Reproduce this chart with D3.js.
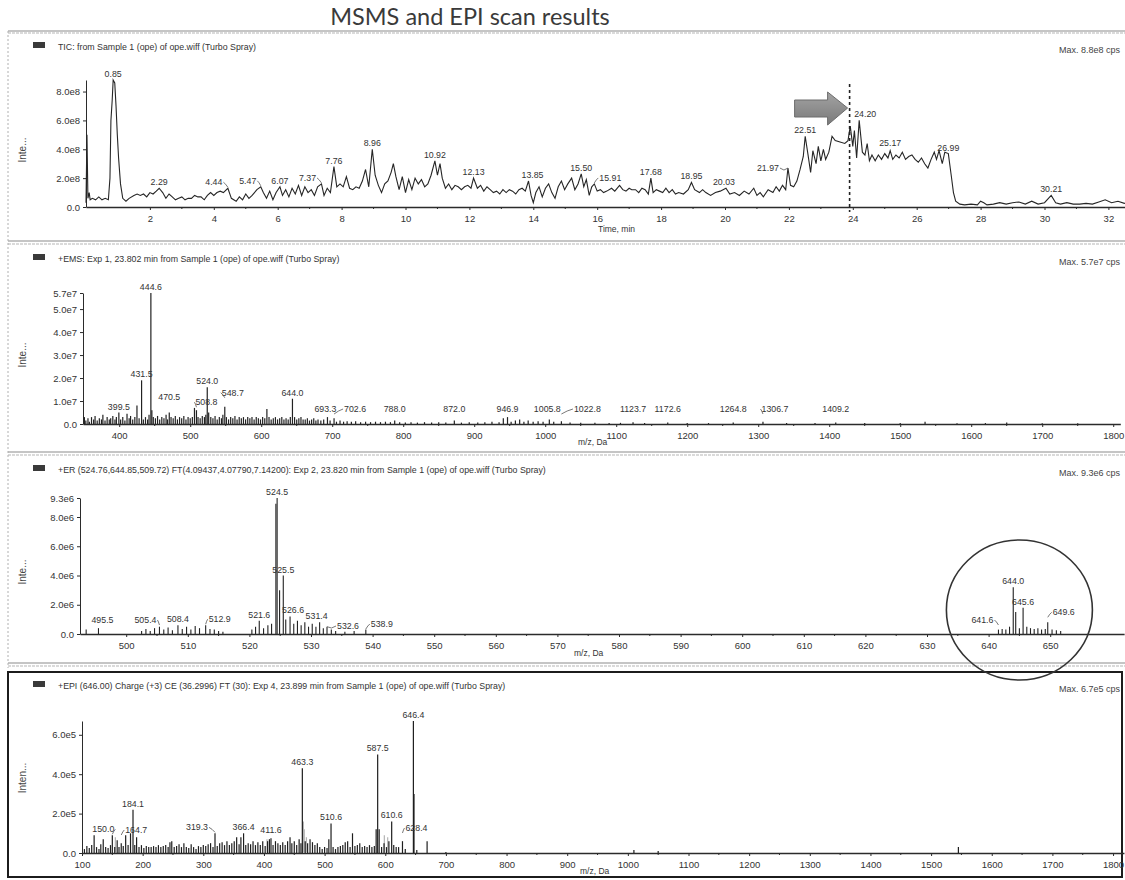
<!DOCTYPE html>
<html>
<head>
<meta charset="utf-8">
<script src="https://cdn.jsdelivr.net/npm/d3@7"></script>
<style>
  html, body { margin: 0; padding: 0; background: #fff; }
  svg { display: block; }
</style>
</head>
<body>
<svg id="chart" width="1125" height="880"></svg>
<script>
// ---------------------------------------------------------------
// Data
// ---------------------------------------------------------------

// TIC chromatogram: retention time (min) and intensity (x 1e8 cps)
const ticTime = [
  0.00,0.03,0.06,0.10,0.13,0.20,0.30,0.40,0.50,0.60,0.70,0.75,0.78,0.82,0.85,0.90,0.94,0.98,1.02,1.08,
  1.15,1.25,1.35,1.50,1.60,1.70,1.80,1.90,2.00,2.10,2.20,2.29,2.40,2.50,2.60,2.70,2.80,2.90,3.00,3.10,
  3.20,3.30,3.40,3.50,3.60,3.70,3.80,3.90,4.00,4.10,4.20,4.30,4.44,4.55,4.70,4.80,4.90,5.00,5.10,5.20,
  5.35,5.47,5.55,5.65,5.75,5.85,5.95,6.07,6.15,6.25,6.35,6.45,6.55,6.65,6.75,6.85,6.95,7.05,7.15,7.25,
  7.37,7.45,7.55,7.65,7.76,7.85,7.95,8.05,8.15,8.25,8.35,8.45,8.55,8.65,8.75,8.85,8.96,9.05,9.15,9.25,
  9.35,9.45,9.55,9.62,9.70,9.80,9.90,10.00,10.10,10.20,10.30,10.40,10.50,10.60,10.70,10.80,10.92,11.00,11.08,11.15,
  11.25,11.35,11.45,11.55,11.65,11.75,11.85,11.95,12.05,12.13,12.25,12.35,12.45,12.55,12.65,12.75,12.85,12.95,13.05,13.15,
  13.25,13.35,13.45,13.55,13.65,13.75,13.85,13.93,14.00,14.08,14.18,14.28,14.38,14.48,14.58,14.68,14.78,14.88,14.98,15.08,
  15.20,15.30,15.40,15.50,15.58,15.66,15.75,15.83,15.91,16.00,16.10,16.20,16.30,16.45,16.55,16.70,16.80,16.90,17.00,17.08,
  17.20,17.30,17.40,17.50,17.60,17.68,17.75,17.85,17.95,18.05,18.15,18.25,18.35,18.45,18.55,18.70,18.85,18.95,19.05,19.20,
  19.30,19.40,19.55,19.70,19.85,20.03,20.15,20.30,20.45,20.60,20.75,20.90,21.00,21.10,21.20,21.35,21.50,21.60,21.70,21.80,
  21.90,21.97,22.05,22.15,22.25,22.35,22.45,22.51,22.60,22.68,22.75,22.85,22.92,23.00,23.08,23.15,23.25,23.35,23.45,23.60,
  23.75,23.85,23.92,24.00,24.05,24.12,24.20,24.30,24.38,24.45,24.52,24.60,24.70,24.80,24.90,25.00,25.10,25.17,25.25,25.35,
  25.45,25.55,25.65,25.75,25.85,25.95,26.05,26.15,26.25,26.35,26.45,26.55,26.62,26.70,26.80,26.88,26.99,27.08,27.15,27.22,
  27.35,27.50,27.70,27.90,28.00,28.10,28.20,28.40,28.60,28.80,29.00,29.20,29.40,29.60,29.80,30.00,30.21,30.35,30.50,30.70,
  30.90,31.10,31.30,31.50,31.70,31.90,32.10,32.30,32.50,32.70
];
const ticIntensity = [
  0.3,5.0,0.6,1.0,0.5,0.6,0.5,0.7,0.5,0.6,0.5,2.0,6.0,7.4,8.8,8.6,7.0,5.0,3.4,1.6,
  0.6,0.4,0.6,0.8,0.9,0.8,0.9,0.7,1.0,0.9,1.1,1.3,1.0,0.6,0.9,0.7,0.5,0.6,0.7,0.5,
  0.6,0.6,0.8,0.7,0.7,0.5,0.8,1.0,0.8,1.0,1.1,1.0,1.3,0.6,0.4,0.7,0.5,0.9,0.6,0.8,
  1.2,1.4,1.0,0.6,1.1,0.5,1.0,1.4,0.8,1.2,0.7,1.3,0.9,1.5,0.8,1.4,1.0,1.2,0.8,1.4,
  1.6,0.8,1.3,1.0,2.8,1.4,1.6,1.4,2.1,1.3,1.2,1.4,1.3,1.8,2.6,1.4,4.0,2.2,1.5,1.0,
  1.6,1.8,2.4,3.0,2.1,1.2,2.1,1.0,1.9,1.2,2.0,1.6,1.9,1.4,1.6,2.2,3.2,2.2,3.0,2.0,
  1.3,1.6,1.2,1.5,1.4,1.2,1.4,1.5,1.3,2.0,1.3,1.5,1.1,1.4,1.2,1.0,1.1,0.9,1.2,1.0,
  1.2,1.1,0.9,1.2,1.3,1.1,1.8,0.8,0.3,1.0,1.4,0.7,1.3,1.6,1.0,0.6,1.4,1.8,1.2,1.6,
  2.0,1.2,1.6,2.3,1.4,1.9,0.8,1.4,1.6,1.1,1.2,1.0,1.1,1.3,1.1,1.5,1.2,1.1,1.3,1.2,
  1.2,1.0,1.3,1.2,0.9,2.0,1.0,1.2,1.1,1.0,1.3,1.0,1.2,0.9,1.0,0.9,1.2,1.7,1.2,1.0,
  1.2,1.0,0.8,1.0,1.1,1.3,0.9,1.0,0.8,1.1,0.9,1.3,0.8,1.0,0.7,1.2,1.0,1.4,1.1,1.5,
  1.2,2.7,1.5,1.4,1.8,2.6,3.5,4.9,3.6,2.4,3.9,3.0,4.2,3.2,4.0,3.3,3.8,4.9,4.6,4.5,
  4.4,4.6,5.6,4.2,5.3,3.4,6.0,3.8,3.6,4.4,3.2,3.6,3.2,3.6,3.3,3.7,3.4,3.9,3.3,3.6,
  3.4,3.8,3.3,3.5,3.6,3.3,3.1,3.4,3.0,2.7,3.3,3.8,3.3,3.9,3.0,3.8,3.7,2.2,1.0,0.4,
  0.2,0.15,0.2,0.15,0.4,0.3,0.15,0.2,0.3,0.2,0.3,0.35,0.2,0.4,0.2,0.3,0.8,0.3,0.2,0.3,
  0.2,0.2,0.25,0.2,0.35,0.5,0.3,0.4,0.25,0.3
];
// Labelled TIC peaks (retention time, min)
const ticPeakLabels = [0.85,2.29,4.44,5.47,6.07,7.37,7.76,8.96,10.92,12.13,13.85,15.50,15.91,
                       17.68,18.95,20.03,21.97,22.51,24.20,25.17,26.99,30.21];
const ticMarkerTime = 23.9;   // scan time selected for the spectra below
const ticTimeTicks = [2,4,6,8,10,12,14,16,18,20,22,24,26,28,30,32];
const ticIntensityTicks = [0,2,4,6,8];

// +EMS spectrum: [m/z, intensity x 1e7 cps]
const emsPeaks = [
  [351,0.3],[353,0.15],[356,0.25],[358,0.1],[361,0.3],[364,0.2],[366,0.35],[369,0.15],[372,0.25],[375,0.2],
  [377,0.4],[380,0.15],[383,0.3],[386,0.2],[388,0.25],[391,0.35],[394,0.2],[396,0.3],[399.5,0.5],[402,0.2],
  [405,0.3],[408,0.15],[411,0.45],[414,0.25],[416,0.35],[419,0.2],[422,0.3],[425,0.8],[428,0.25],[431.5,1.9],
  [434,0.2],[437,0.3],[440,0.2],[442,0.4],[444.6,5.7],[446,0.6],[448,0.3],[451,0.25],[454,0.35],[457,0.2],
  [460,0.3],[463,0.25],[466,0.4],[468,0.2],[470.5,0.5],[473,0.3],[476,0.25],[479,0.35],[482,0.2],[485,0.3],
  [488,0.25],[491,0.35],[494,0.2],[497,0.3],[500,0.25],[503,0.3],[506,0.7],[508.8,0.6],[511,0.3],[514,0.25],
  [517,0.35],[520,0.3],[522,0.4],[524.0,1.6],[526,0.5],[529,0.3],[532,0.25],[535,0.35],[538,0.2],[541,0.3],
  [544,0.25],[546,0.4],[548.7,0.75],[551,0.3],[554,0.2],[557,0.3],[560,0.25],[563,0.35],[566,0.2],[569,0.3],
  [572,0.25],[575,0.3],[578,0.2],[581,0.3],[584,0.25],[587,0.3],[590,0.2],[593,0.3],[596,0.25],[599,0.2],
  [602,0.3],[605,0.25],[608,0.65],[611,0.3],[614,0.2],[617,0.25],[620,0.3],[623,0.2],[626,0.25],[629,0.3],
  [632,0.2],[635,0.25],[638,0.2],[641,0.3],[644.0,1.1],[647,0.3],[650,0.2],[653,0.25],[656,0.3],[659,0.2],
  [662,0.2],[665,0.25],[668,0.15],[671,0.2],[674,0.25],[677,0.15],[680,0.2],[684,0.15],[688,0.2],[693.3,0.3],
  [697,0.15],[702.6,0.25],[706,0.1],[711,0.15],[716,0.1],[721,0.12],[727,0.1],[733,0.12],[740,0.08],[747,0.1],
  [754,0.08],[761,0.1],[768,0.08],[775,0.1],[782,0.08],[788.0,0.15],[795,0.08],[803,0.06],[811,0.08],[820,0.06],
  [830,0.08],[840,0.06],[850,0.08],[860,0.06],[872.0,0.15],[882,0.06],[893,0.08],[905,0.06],[915,0.08],[925,0.1],
  [935,0.08],[941,0.25],[946.9,0.3],[952,0.1],[958,0.15],[964,0.2],[970,0.1],[976,0.15],[983,0.1],[990,0.12],
  [997,0.1],[1005.8,0.2],[1012,0.1],[1022.8,0.12],[1035,0.06],[1050,0.05],[1070,0.05],[1090,0.04],[1106,0.05],[1123.7,0.08],
  [1140,0.04],[1172.6,0.06],[1200,0.04],[1230,0.04],[1264.8,0.06],[1306.7,0.1],[1340,0.04],[1380,0.04],[1409.2,0.06],[1450,0.04],
  [1500,0.04],[1535,0.1],[1580,0.03],[1620,0.04],[1650,0.06],[1700,0.03],[1750,0.03]
];
const emsLabels = [399.5,431.5,444.6,470.5,508.8,524.0,548.7,644.0,693.3,702.6,788.0,872.0,946.9,
                   1005.8,1022.8,1123.7,1172.6,1264.8,1306.7,1409.2];
const emsMzTicks = [400,500,600,700,800,900,1000,1100,1200,1300,1400,1500,1600,1700,1800];
const emsIntensityTicks = [0,1,2,3,4,5,5.7];

// +ER spectrum: [m/z, intensity x 1e6 cps]
const erPeaks = [
  [493.5,0.3],[495.5,0.4],[502.5,0.2],[503.2,0.35],[503.9,0.2],[504.6,0.4],[505.4,0.5],[506.1,0.3],[506.8,0.45],[507.5,0.25],
  [508.4,0.6],[509.1,0.35],[509.8,0.5],[510.5,0.3],[511.2,0.55],[511.9,0.4],[512.9,0.6],[513.6,0.35],[514.3,0.3],[515.0,0.2],
  [515.7,0.15],[520.4,0.3],[521.0,0.5],[521.6,0.9],[522.3,0.4],[523.0,0.6],[523.6,0.7],[524.3,8.9],[524.5,9.3],[524.9,3.0],
  [525.5,4.0],[525.9,1.0],[526.6,1.2],[527.2,0.7],[527.8,0.9],[528.4,0.6],[529.0,0.8],[529.6,0.5],[530.2,0.7],[530.8,0.5],
  [531.4,0.8],[532.0,0.4],[532.6,0.5],[533.3,0.3],[534.0,0.2],[535.5,0.15],[537.0,0.2],[538.9,0.3],
  [641.6,0.3],[642.2,0.35],[642.8,0.3],[643.4,0.5],[644.0,3.2],[644.4,1.5],[645.0,0.4],[645.6,1.8],[646.2,0.5],[646.8,0.4],
  [647.4,0.35],[648.0,0.4],[648.6,0.3],[649.2,0.35],[649.6,0.8],[650.3,0.3],[651.0,0.25],[651.7,0.2]
];
const erLabels = [495.5,505.4,508.4,512.9,521.6,524.5,525.5,526.6,531.4,532.6,538.9,641.6,644.0,645.6,649.6];
const erMzTicks = [500,510,520,530,540,550,560,570,580,590,600,610,620,630,640,650];
const erIntensityTicks = [0,2,4,6,8,9.3];

// +EPI product-ion spectrum of m/z 646: [m/z, intensity x 1e5 cps]
const epiPeaks = [
  [104,0.2],[108,0.35],[112,0.25],[116,0.4],[120,0.9],[124,0.3],[128,0.2],[131,0.45],[135,0.7],[139,0.3],
  [143,0.25],[147,0.4],[150.0,0.9],[154,0.3],[158,0.65],[161,0.3],[164.7,0.5],[168,0.35],[172,0.9],[176,0.4],
  [180,1.0],[184.1,2.2],[187,0.4],[190,0.8],[194,0.3],[198,0.4],[202,0.25],[206,0.35],[210,0.3],[214,0.3],
  [218,0.35],[222,0.3],[226,0.4],[230,0.3],[234,0.35],[238,0.4],[242,0.3],[245,0.55],[248,0.6],[252,0.3],
  [256,0.35],[260,0.45],[264,0.3],[268,0.5],[272,0.3],[276,0.25],[280,0.45],[284,0.3],[288,0.2],[292,0.35],
  [296,0.3],[300,0.4],[304,0.35],[308,0.45],[312,0.5],[316,0.3],[319.3,1.0],[323,0.35],[327,0.5],[331,0.55],
  [335,0.4],[339,0.6],[343,0.4],[347,0.5],[351,0.6],[355,0.8],[359,0.45],[362,0.8],[366.4,1.0],[370,0.4],
  [374,0.5],[378,0.45],[382,0.6],[386,0.4],[390,0.55],[394,0.4],[398,0.6],[402,0.35],[406,0.6],[409,0.7],
  [411.6,0.75],[415,0.4],[419,0.6],[423,0.5],[427,0.4],[431,0.55],[435,0.4],[439,0.6],[443,0.8],[446,0.5],
  [450,0.6],[454,0.4],[458,0.7],[461,0.5],[463.3,4.3],[468,0.6],[472,0.5],[476,0.7],[480,0.55],[484,0.4],
  [488,0.5],[492,0.3],[496,0.2],[500,0.3],[504,0.25],[507,0.7],[510.6,1.5],[514,0.3],[518,0.2],[522,0.3],
  [526,0.35],[530,0.4],[534,0.55],[538,0.6],[542,0.3],[546,1.0],[550,0.35],[554,0.4],[558,0.5],[562,0.3],
  [566,0.35],[570,0.3],[574,0.4],[578,0.3],[582,0.35],[585,1.2],[587.5,5.0],[590,1.2],[594,0.3],[598,0.5],
  [602,0.3],[606,0.6],[610.6,1.6],[614,0.4],[618,0.3],[622,0.3],[628.4,0.6],[633,0.2],[646.4,6.7],[647.4,3.0],
  [652,0.15],[669,0.6],[700,0.05],[1010,0.15],[1050,0.1],[1545,0.3]
];
// weaker, lighter-printed fragment lines
const epiFaintPeaks = [[155,0.8],[405,0.7],[465,1.6],[466.5,1.2],[470,0.8],[598.5,0.9],[604,0.8]];
const epiLabels = [150.0,164.7,184.1,319.3,366.4,411.6,463.3,510.6,587.5,610.6,628.4,646.4];
const epiMzTicks = [100,200,300,400,500,600,700,800,900,1000,1100,1200,1300,1400,1500,1600,1700,1800];
const epiIntensityTicks = [0,2,4,6];

// ---------------------------------------------------------------
// Drawing
// ---------------------------------------------------------------
const svg = d3.select("#chart");
const FONT = "'Liberation Sans', Arial, Helvetica, sans-serif";
const INK = "#2b2b2b";

// page title
svg.append("text")
  .attr("x", 470).attr("y", 25)
  .attr("text-anchor", "middle")
  .attr("font-family", "Lato, 'Open Sans', sans-serif")
  .attr("font-size", 23.5)
  .attr("fill", "#3a3a3a")
  .text("MSMS and EPI scan results");

// scanned-page frame rules between the upper panels
[[31, 33], [241, 244], [452, 455], [663, 666]].forEach(([a, b]) => {
  svg.append("line").attr("x1", 8).attr("x2", 1125).attr("y1", a).attr("y2", a)
    .attr("stroke", "#8c8c8c").attr("stroke-width", 1.2);
  svg.append("line").attr("x1", 8).attr("x2", 1125).attr("y1", b).attr("y2", b)
    .attr("stroke", "#b5b5b5").attr("stroke-width", 1).attr("stroke-dasharray", "3,1");
});
svg.append("line").attr("x1", 8).attr("x2", 8).attr("y1", 31).attr("y2", 668)
  .attr("stroke", "#b0b0b0").attr("stroke-dasharray", "2,2");
// framed bottom panel
svg.append("rect").attr("x", 8).attr("y", 672).attr("width", 1114).attr("height", 205)
  .attr("fill", "none").attr("stroke", "#1c1c1c").attr("stroke-width", 2);

function styleAxis(g) {
  g.selectAll("path").attr("stroke", INK).attr("stroke-width", 1);
  g.selectAll("line").attr("stroke", INK);
  g.selectAll("text").attr("fill", "#333").attr("font-family", FONT).attr("font-size", 9.5);
}

function drawFrame(o) {
  const g = svg.append("g");
  const x0 = o.x.range()[0], base = o.y(0);
  // header row
  g.append("rect").attr("x", 33).attr("y", o.headY - 8).attr("width", 12).attr("height", 6)
    .attr("fill", "#3a3a3a");
  g.append("text").attr("x", 58).attr("y", o.headY)
    .attr("font-family", FONT).attr("font-size", 8.8).attr("fill", "#333").text(o.header);
  g.append("text").attr("x", 1120).attr("y", o.headY + 3).attr("text-anchor", "end")
    .attr("font-family", FONT).attr("font-size", 9).attr("fill", "#444").text(o.maxText);

  // y axis
  const gy = g.append("g").attr("transform", `translate(${x0},0)`)
    .call(d3.axisLeft(o.y).tickValues(o.yTicks).tickFormat(o.yFmt).tickSize(3).tickSizeOuter(0).tickPadding(3));
  styleAxis(gy);
  // x axis
  const gx = g.append("g").attr("transform", `translate(0,${base})`)
    .call(d3.axisBottom(o.x).tickValues(o.xTicks).tickFormat(d3.format("d"))
      .tickSize(3).tickSizeOuter(0).tickPadding(5));
  styleAxis(gx);
  gx.select("path").attr("stroke-width", 1.4);
  // minor ticks on x
  const minor = o.xTicks.slice(0, -1).map((t, i) => (t + o.xTicks[i + 1]) / 2);
  g.append("g").selectAll("line").data(minor).join("line")
    .attr("x1", d => o.x(d)).attr("x2", d => o.x(d))
    .attr("y1", base).attr("y2", base + 2).attr("stroke", INK);

  // axis titles
  g.append("text").attr("x", o.xTitleX).attr("y", base + o.xTitleDy)
    .attr("font-family", FONT).attr("font-size", 8.5).attr("fill", "#333").text(o.xTitle);
  g.append("text")
    .attr("transform", `translate(26,${o.yTitleY}) rotate(-90)`)
    .attr("text-anchor", "middle")
    .attr("font-family", FONT).attr("font-size", 10).attr("fill", "#444").text(o.yTitle);
  return g;
}

// peak labels with optional leader lines
function drawLabels(g, items, x, y, minGap, nudge, digits) {
  const base = y(0);
  items.forEach(({pos, val}) => {
    const txt = pos.toFixed(digits);
    const [dx, dy] = nudge[txt] || [0, 0];
    const px = x(pos), top = y(val);
    const ly = Math.min(top - 3, base - minGap) + dy;
    const t = g.append("text").attr("x", px + dx).attr("y", ly)
      .attr("text-anchor", "middle")
      .attr("font-family", FONT).attr("font-size", 8.8).attr("fill", "#333").text(txt);
    if (Math.abs(dx) > 6) {
      const w = t.node().getComputedTextLength();
      const ex = dx < 0 ? px + dx + w / 2 + 1 : px + dx - w / 2 - 1;
      g.append("path")
        .attr("d", `M${ex},${ly - 3} L${(ex + px) / 2},${ly - 1} L${px},${Math.min(top, ly + 2)}`)
        .attr("fill", "none").attr("stroke", "#555").attr("stroke-width", 0.8);
    }
  });
}

function drawSticks(g, data, x, y, color, width) {
  g.append("g").selectAll("line").data(data).join("line")
    .attr("x1", d => x(d[0])).attr("x2", d => x(d[0]))
    .attr("y1", y(0)).attr("y2", d => y(d[1]))
    .attr("stroke", color).attr("stroke-width", width);
}

function valueAt(data, pos) {
  let best = data[0];
  data.forEach(d => { if (Math.abs(d[0] - pos) < Math.abs(best[0] - pos)) best = d; });
  return best[1];
}

// ---- Panel 1: TIC --------------------------------------------
{
  const x = d3.scaleLinear().domain([0, 32.75]).range([86, 86 + 32.75 * 31.95]);
  const y = d3.scaleLinear().domain([0, 8.8]).range([207, 80]);
  const g = drawFrame({
    x, y, headY: 50,
    header: "TIC: from Sample 1 (ope) of ope.wiff (Turbo Spray)",
    maxText: "Max. 8.8e8 cps",
    yTicks: ticIntensityTicks, yFmt: d => d === 0 ? "0.0" : d.toFixed(1) + "e8",
    xTicks: ticTimeTicks, xTitle: "Time, min", xTitleX: 598, xTitleDy: 25,
    yTitle: "Inte...", yTitleY: 150
  });
  const pts = ticTime.map((t, i) => [t, ticIntensity[i]]);
  g.append("path").datum(pts)
    .attr("d", d3.line().x(d => x(d[0])).y(d => y(d[1])))
    .attr("fill", "none").attr("stroke", "#262626").attr("stroke-width", 1.1);

  const nudge = { "4.44": [-14, 0], "5.47": [-13, 0], "7.37": [-14, 0], "15.91": [16, 0],
                  "20.03": [-2, 0], "21.97": [-20, 6], "24.20": [6, 0], "13.85": [4, 0],
                  "25.17": [0, -2] };
  drawLabels(g, ticPeakLabels.map(t => ({pos: t, val: valueAt(pts, t)})), x, y, 0, nudge, 2);

  // selected scan time
  const mx = x(ticMarkerTime);
  g.append("line").attr("x1", mx).attr("x2", mx).attr("y1", 84).attr("y2", 212)
    .attr("stroke", "#222").attr("stroke-width", 1.6).attr("stroke-dasharray", "3,3");
  // pointer arrow
  const tip = mx - 2;
  const grad = svg.append("defs").append("linearGradient").attr("id", "arrowFill")
    .attr("x1", 0).attr("x2", 0).attr("y1", 0).attr("y2", 1);
  grad.append("stop").attr("offset", 0).attr("stop-color", "#a3a3a3");
  grad.append("stop").attr("offset", 1).attr("stop-color", "#7a7a7a");
  g.append("path")
    .attr("d", `M${tip - 53},${100} L${tip - 20},${100} L${tip - 20},${92} L${tip},${108}
                L${tip - 20},${125} L${tip - 20},${117} L${tip - 53},${117} Z`)
    .attr("fill", "url(#arrowFill)").attr("stroke", "#6d6d6d").attr("stroke-width", 1);
}

// ---- Panel 2: +EMS -------------------------------------------
{
  const x = d3.scaleLinear().domain([349, 1810]).range([83, 83 + 1461 * 0.71]);
  const y = d3.scaleLinear().domain([0, 5.7]).range([424, 293]);
  const g = drawFrame({
    x, y, headY: 262,
    header: "+EMS: Exp 1, 23.802 min from Sample 1 (ope) of ope.wiff (Turbo Spray)",
    maxText: "Max. 5.7e7 cps",
    yTicks: emsIntensityTicks, yFmt: d => d === 0 ? "0.0" : d.toFixed(1) + "e7",
    xTicks: emsMzTicks, xTitle: "m/z, Da", xTitleX: 578, xTitleDy: 21,
    yTitle: "Inte...", yTitleY: 355
  });
  drawSticks(g, emsPeaks, x, y, "#222", 1.2);
  const nudge = { "470.5": [0, -10], "508.8": [10, -2], "548.7": [8, -8], "702.6": [21, 0],
                  "1022.8": [26, 0], "1306.7": [12, 0], "693.3": [-2, 0], "1005.8": [-2, 0] };
  drawLabels(g, emsLabels.map(m => ({pos: m, val: valueAt(emsPeaks, m)})), x, y, 12, nudge, 1);
}

// ---- Panel 3: +ER --------------------------------------------
{
  const x = d3.scaleLinear().domain([492.5, 662]).range([80, 80 + 169.5 * 6.16]);
  const y = d3.scaleLinear().domain([0, 9.3]).range([634, 498]);
  const g = drawFrame({
    x, y, headY: 473,
    header: "+ER (524.76,644.85,509.72) FT(4.09437,4.07790,7.14200): Exp 2, 23.820 min from Sample 1 (ope) of ope.wiff (Turbo Spray)",
    maxText: "Max. 9.3e6 cps",
    yTicks: erIntensityTicks, yFmt: d => d === 0 ? "0.0" : d.toFixed(1) + "e6",
    xTicks: erMzTicks, xTitle: "m/z, Da", xTitleX: 574, xTitleDy: 22,
    yTitle: "Inte...", yTitleY: 572
  });
  drawSticks(g, erPeaks, x, y, "#222", 1.1);
  const nudge = { "505.4": [-14, 0], "512.9": [14, 0], "526.6": [3, 0], "531.4": [-3, 0],
                  "532.6": [21, 6], "538.9": [16, 4], "641.6": [-16, 0], "649.6": [16, -4], "495.5": [4, 0] };
  drawLabels(g, erLabels.map(m => ({pos: m, val: valueAt(erPeaks, m)})), x, y, 11, nudge, 1);

  // highlighted precursor region
  g.append("ellipse").attr("cx", x(645)).attr("cy", 610).attr("rx", 73).attr("ry", 70)
    .attr("fill", "none").attr("stroke", "#333").attr("stroke-width", 1.6);
}

// ---- Panel 4: +EPI -------------------------------------------
{
  const x = d3.scaleLinear().domain([100, 1818]).range([82, 82 + 1718 * 0.6065]);
  const y = d3.scaleLinear().domain([0, 6.7]).range([853, 721]);
  const g = drawFrame({
    x, y, headY: 689,
    header: "+EPI (646.00) Charge (+3) CE (36.2996) FT (30): Exp 4, 23.899 min from Sample 1 (ope) of ope.wiff (Turbo Spray)",
    maxText: "Max. 6.7e5 cps",
    yTicks: epiIntensityTicks, yFmt: d => d === 0 ? "0.0" : d.toFixed(1) + "e5",
    xTicks: epiMzTicks, xTitle: "m/z, Da", xTitleX: 580, xTitleDy: 21,
    yTitle: "Inten...", yTitleY: 778
  });
  drawSticks(g, epiFaintPeaks, x, y, "#b4b4b4", 1.2);
  drawSticks(g, epiPeaks, x, y, "#1e1e1e", 1.2);
  const nudge = { "150.0": [-9, 0], "164.7": [15, 0], "319.3": [-18, 0], "628.4": [14, -2] };
  drawLabels(g, epiLabels.map(m => ({pos: m, val: valueAt(epiPeaks, m)})), x, y, 20, nudge, 1);
}
</script>
</body>
</html>
